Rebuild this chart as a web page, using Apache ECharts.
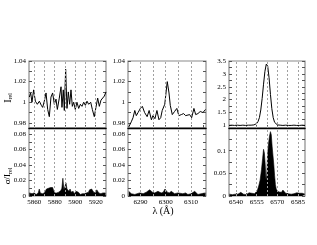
<!DOCTYPE html>
<html><head><meta charset="utf-8">
<script src="https://cdn.jsdelivr.net/npm/echarts@6/dist/echarts.min.js"></script>
<style>html,body{margin:0;padding:0;background:#fff}#c{width:317px;height:245px}</style>
</head><body><div id="c"></div>
<script>
// ---- Panel 1 (Na D region) ----
const p1UpX = [5855.3,5856.6,5857.9,5859.5,5861.2,5863.1,5865.1,5867.0,5868.3,5869.9,5871.6,5873.2,5874.8,5876.4,5878.0,5879.7,5881.3,5882.6,5884.5,5886.2,5887.1,5888.4,5889.4,5890.7,5892.0,5893.3,5894.6,5895.9,5897.2,5898.5,5900.1,5901.7,5903.4,5905.0,5906.6,5908.3,5909.9,5911.5,5913.1,5915.1,5916.7,5918.6,5920.2,5921.9,5923.5,5925.1,5926.8,5928.4,5930.0];
const p1UpY = [1.005,1.009,1.000,1.012,1.001,0.998,1.001,0.997,0.995,1.001,1.009,0.993,0.986,1.005,1.009,0.998,1.003,0.993,1.004,1.015,0.995,1.012,0.992,1.032,0.994,1.010,0.998,1.012,0.996,1.000,0.993,1.000,0.994,0.998,0.996,1.000,0.997,1.001,0.998,1.000,0.993,0.986,0.995,1.004,0.996,1.002,1.003,1.006,1.010];
const p1LoX = [5855.3,5856,5857,5858,5859,5860,5861,5862,5863,5864,5865,5866,5867,5868,5869,5870,5871,5872,5873,5874,5875,5876,5877,5878,5879,5880,5881,5882,5883,5884,5885,5886,5887,5888,5889,5890,5891,5892,5893,5894,5895,5896,5897,5898,5899,5900,5901,5902,5903,5904,5905,5906,5907,5908,5909,5910,5911,5912,5913,5914,5915,5916,5917,5918,5919,5920,5921,5922,5923,5924,5925,5926,5927,5928,5929,5930];
const p1LoY = [0.004,0.002,0.004,0.003,0.002,0.004,0.003,0.002,0.003,0.004,0.009,0.004,0.002,0.003,0.002,0.004,0.006,0.009,0.011,0.010,0.012,0.011,0.009,0.011,0.007,0.004,0.005,0.004,0.006,0.005,0.004,0.007,0.010,0.023,0.008,0.012,0.017,0.009,0.011,0.006,0.009,0.005,0.004,0.006,0.003,0.004,0.006,0.004,0.005,0.003,0.002,0.004,0.003,0.002,0.003,0.002,0.004,0.006,0.005,0.008,0.006,0.009,0.007,0.005,0.006,0.004,0.008,0.006,0.004,0.005,0.003,0.005,0.004,0.006,0.004,0.003];

// ---- Panel 2 ([O I] 6300 region) ----
const p2UpX = [6285.3,6286.3,6287.0,6287.7,6288.3,6289.0,6289.9,6290.7,6291.6,6292.6,6293.4,6294.3,6294.9,6295.7,6296.5,6297.3,6298.0,6298.6,6299.6,6300.6,6301.3,6301.8,6302.6,6303.5,6304.4,6305.2,6306.2,6307.1,6307.9,6308.6,6309.5,6310.3,6311.2,6311.9,6312.8,6313.7,6314.8,6315.8];
const p2UpY = [0.976,0.981,0.985,0.992,0.987,0.990,0.994,0.996,0.990,0.986,0.992,0.983,0.987,0.984,0.992,0.983,0.985,0.992,0.998,1.020,1.009,0.997,0.988,0.991,0.994,0.987,0.988,0.989,0.987,0.986,0.988,0.985,0.994,0.988,0.989,0.991,0.990,0.993];
const p2LoX = [6285.3,6286.3,6287.7,6288.6,6289.7,6291.0,6292.3,6293.6,6294.7,6295.6,6296.9,6298.2,6299.0,6299.7,6300.6,6301.4,6302.2,6303.5,6304.8,6306.8,6307.9,6308.8,6310.1,6311.5,6312.8,6314.1,6315.8];
const p2LoY = [0.006,0.003,0.002,0.003,0.004,0.003,0.005,0.008,0.005,0.004,0.006,0.004,0.005,0.009,0.005,0.004,0.006,0.003,0.004,0.003,0.004,0.002,0.003,0.006,0.002,0.003,0.004];

// ---- Panel 3 (H-alpha region) ----
const p3UpX = [6535,6537,6539,6541,6543,6545,6547,6549,6551,6553,6554,6555,6556,6557,6558,6559,6560,6561,6562,6563,6564,6565,6566,6567,6568,6569,6570,6572,6574,6576,6578,6580,6582,6584,6586,6588,6590];
const p3UpY = [1.00,1.01,1.00,1.01,1.00,1.01,1.00,1.01,1.01,1.02,1.03,1.07,1.15,1.30,1.60,2.05,2.60,3.10,3.38,3.30,2.85,2.20,1.65,1.30,1.12,1.05,1.02,1.01,1.00,1.01,1.00,1.00,1.01,1.00,1.00,1.01,1.00];
const p3LoX = [6535.3,6536.5,6537.5,6538.5,6539.5,6540.5,6541.5,6542.5,6543.5,6544.5,6545.5,6546.5,6547.5,6548.5,6549.5,6550.5,6551.5,6552.5,6553.5,6554.5,6555.5,6556.5,6557.5,6558.5,6559.3,6560.0,6560.6,6561.2,6561.8,6562.3,6562.9,6563.6,6564.3,6565.0,6565.6,6566.2,6566.8,6567.4,6568.0,6568.6,6569.2,6570,6571,6572,6573,6574,6575,6576,6577,6578,6579,6580,6581,6582,6583,6584,6585,6586,6587,6588,6589,6590];
const p3LoY = [0.004,0.006,0.003,0.005,0.004,0.007,0.004,0.006,0.008,0.005,0.004,0.006,0.003,0.005,0.007,0.004,0.006,0.004,0.005,0.006,0.012,0.022,0.035,0.058,0.082,0.103,0.095,0.070,0.035,0.045,0.090,0.115,0.132,0.142,0.135,0.110,0.090,0.070,0.045,0.025,0.015,0.011,0.009,0.012,0.008,0.013,0.010,0.006,0.008,0.005,0.007,0.004,0.006,0.005,0.004,0.007,0.005,0.006,0.004,0.006,0.005,0.004];

// ---- axis ranges and ticks ----
const xRanges = [[5855,5930],[6285,6316],[6535,6590]];
const xTicks = [[5860,5870,5880,5890,5900,5910,5920],[6290,6295,6300,6305,6310,6315],[6540,6547.5,6555,6562.5,6570,6577.5,6585]];
const xLabels = [[5860,5880,5900,5920],[6290,6300,6310],[6540,6555,6570,6585]];
const xGridLines = [[5860,5870,5880,5890,5900,5910,5920],[6290,6295,6300,6305,6310],[6540,6547.5,6555,6562.5,6570,6577.5,6585]];

const yUpRanges = [[0.975,1.04],[0.975,1.04],[0.9,3.5]];
const yUpTicks = [[0.98,0.99,1,1.01,1.02,1.03,1.04],[0.98,0.99,1,1.01,1.02,1.03,1.04],[1,1.25,1.5,1.75,2,2.25,2.5,2.75,3,3.25,3.5]];
const yUpLabels = [[0.98,1,1.02,1.04],[0.98,1,1.02,1.04],[1,1.5,2,2.5,3,3.5]];
const yLoRanges = [[0,0.088],[0,0.088],[0,0.15]];
const yLoTicks = [[0,0.01,0.02,0.03,0.04,0.05,0.06,0.07,0.08],[0,0.01,0.02,0.03,0.04,0.05,0.06,0.07,0.08],[0,0.025,0.05,0.075,0.1,0.125]];
const yLoLabels = [[0,0.02,0.04,0.06,0.08],[0,0.02,0.04,0.06,0.08],[0,0.05,0.1]];

const upData = [[p1UpX,p1UpY],[p2UpX,p2UpY],[p3UpX,p3UpY]];
const loData = [[p1LoX,p1LoY],[p2LoX,p2LoY],[p3LoX,p3LoY]];

function pairs(xs, ys){ return xs.map((x,i)=>[x, ys[i]]); }
const plain = v => String(v);

const FONT = 'Liberation Serif';
const panelLeft = [29,128,229];
const panelWidth = [77,78,76];
const upTop = 61, upH = 67, loTop = 128, loH = 68;

const grid = [], xAxis = [], yAxis = [], series = [];
for (let row = 0; row < 2; row++) {
  for (let p = 0; p < 3; p++) {
    const gi = grid.length;
    const upper = row === 0;
    grid.push({left: panelLeft[p], width: panelWidth[p], top: upper ? upTop : loTop, height: upper ? upH : loH,
      show: true, borderColor: '#8a8a8a', borderWidth: 1.2, backgroundColor: 'transparent'});
    xAxis.push({gridIndex: gi, type: 'value', min: xRanges[p][0], max: xRanges[p][1],
      axisLine: {show: upper, onZero: false, lineStyle: {color: '#000', width: 1.4}},
      axisTick: {show: true, inside: true, length: 3, customValues: xTicks[p], lineStyle: {color: '#555', width: 1}},
      axisLabel: {show: !upper, customValues: xLabels[p], formatter: plain, fontSize: 7, fontFamily: FONT, color: '#000', margin: 3},
      splitLine: {show: false}});
    const yr = upper ? yUpRanges[p] : yLoRanges[p];
    const yt = upper ? yUpTicks[p] : yLoTicks[p];
    const yl = upper ? yUpLabels[p] : yLoLabels[p];
    const yi = yAxis.length;
    yAxis.push({gridIndex: gi, type: 'value', min: yr[0], max: yr[1], position: 'left',
      axisLine: {show: false},
      axisTick: {show: true, inside: true, length: 3, customValues: yt, lineStyle: {color: '#555', width: 1}},
      axisLabel: {show: true, customValues: yl, formatter: plain, fontSize: 7, fontFamily: FONT, color: '#000', margin: 3},
      splitLine: {show: false}});
    yAxis.push({gridIndex: gi, type: 'value', min: yr[0], max: yr[1], position: 'right',
      axisLine: {show: false},
      axisTick: {show: true, inside: true, length: 3, customValues: yt, lineStyle: {color: '#555', width: 1}},
      axisLabel: {show: false},
      splitLine: {show: false}});
    const d = upper ? upData[p] : loData[p];
    const s = {type: 'line', xAxisIndex: gi, yAxisIndex: yi, data: pairs(d[0], d[1]),
      showSymbol: false, symbol: 'none', animation: false, clip: true,
      lineStyle: {color: '#000', width: upper ? 1 : 0.6},
      markLine: {silent: true, symbol: 'none', animation: false, label: {show: false},
        lineStyle: {type: [2,2], color: '#a0a0a0', width: 1},
        data: xGridLines[p].map(v => ({xAxis: v}))}};
    if (!upper) s.areaStyle = {color: '#000', opacity: 1};
    series.push(s);
  }
}

const chart = echarts.init(document.getElementById('c'), null, {renderer: 'canvas'});
chart.setOption({
  backgroundColor: '#fff',
  animation: false,
  grid, xAxis, yAxis, series,
  graphic: [
    {type: 'text', x: 8, y: 98, rotation: Math.PI/2,
      style: {text: 'I{s|rel}', fontFamily: FONT, fontSize: 10, fill: '#000', align: 'center', verticalAlign: 'middle',
        rich: {s: {fontSize: 6, fontFamily: FONT, fill: '#000', padding: [5,0,0,0]}}}},
    {type: 'text', x: 8, y: 176, rotation: Math.PI/2,
      style: {text: 'σ/I{s|rel}', fontFamily: FONT, fontSize: 9, fill: '#000', align: 'center', verticalAlign: 'middle',
        rich: {s: {fontSize: 6, fontFamily: FONT, fill: '#000', padding: [5,0,0,0]}}}},
    {type: 'text', x: 163, y: 211,
      style: {text: 'λ (Å)', fontFamily: FONT, fontSize: 10, fill: '#000', align: 'center', verticalAlign: 'middle'}}
  ]
});
</script>
</body></html>
